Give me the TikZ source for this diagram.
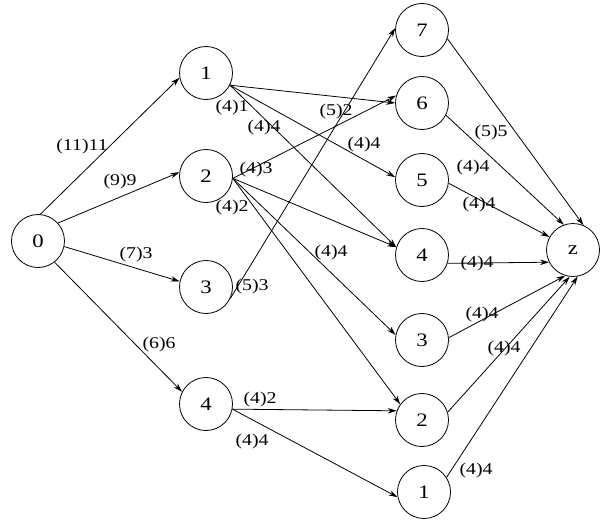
\documentclass[tikz,border=0pt]{standalone}
\usepackage{fontspec}
\setmainfont{Liberation Serif}
\newfontfamily\lblfont{Liberation Serif}[FakeStretch=1.2]
\usetikzlibrary{arrows.meta}
\begin{document}
\begin{tikzpicture}[x=1pt,y=-1pt,
  vtx/.style={draw,circle,minimum size=53pt,inner sep=0pt,line width=0.8pt,font=\lblfont\fontsize{19}{19}\selectfont},
  lbl/.style={inner sep=0pt,font=\lblfont\fontsize{16.5}{17}\selectfont},
  arr/.style={line width=0.8pt,-{Stealth[length=9pt,width=5.5pt]}}]
\useasboundingbox (0,0) rectangle (608,525);
% nodes
\node[vtx] (n0) at (38,241) {0};
\node[vtx] (a1) at (206,73) {1};
\node[vtx] (a2) at (206,176) {2};
\node[vtx] (a3) at (206,287) {3};
\node[vtx] (a4) at (206,404) {4};
\node[vtx] (b7) at (422,30) {7};
\node[vtx] (b6) at (422,103) {6};
\node[vtx] (b5) at (422,180) {5};
\node[vtx] (b4) at (422,255) {4};
\node[vtx] (b3) at (422,340) {3};
\node[vtx] (b2) at (422,420) {2};
\node[vtx] (b1) at (424,492) {1};
\node[vtx] (z) at (573,250) {z};
% edges
\draw[arr] (n0.85) -- (a1.190);
\draw[arr] (n0.42) -- (a2.172);
\draw[arr] (n0.-12) -- (a3.168);
\draw[arr] (n0.-52) -- (a4.153);
\draw[arr] (a1.-27) -- (b6.180);
\draw[arr] (a1.-27) -- (b5.174);
\draw[arr] (a1.-27) -- (b4.163);
\draw[arr] (a2.-5) -- (b6.164);
\draw[arr] (a2.-5) -- (b4.163);
\draw[arr] (a2.-5) -- (b3.169);
\draw[arr] (a2.-5) -- (b2.144);
\draw[arr] (a3.-25) -- (b7.176);
\draw[arr] (a4.-11) -- (b2.160);
\draw[arr] (a4.-11) -- (b1.191);
\draw[arr] (b7.-19) -- (z.67);
\draw[arr] (b6.-27) -- (z.110);
\draw[arr] (b5.-7) -- (z.151);
\draw[arr] (b4.-18) -- (z.-153);
\draw[arr] (b3.5) -- (z.-107);
\draw[arr] (b2.17) -- (z.-97);
\draw[arr] (b1.33) -- (z.-80);
% labels
\node[lbl] (l01) at (82,147) {(11)11};
\node[lbl] (l02) at (120,182) {(9)9};
\node[lbl] (l03) at (136,255) {(7)3};
\node[lbl] (l04) at (159,345) {(6)6};
\node[lbl] (l16) at (232,108) {(4)1};
\node[lbl] (l14) at (264,128) {(4)4};
\node[lbl] (l26) at (256,170) {(4)3};
\node[lbl] (l22) at (232,208) {(4)2};
\node[lbl] (l37a) at (336,112) {(5)2};
\node[lbl] (l15) at (364,145) {(4)4};
\node[lbl] (l23) at (331,253) {(4)4};
\node[lbl] (l37b) at (252,287) {(5)3};
\node[lbl] (l42) at (260,400) {(4)2};
\node[lbl] (l41) at (252,442) {(4)4};
\node[lbl] (l7z) at (491,133) {(5)5};
\node[lbl] (l6z) at (473,168) {(4)4};
\node[lbl] (l5z) at (479,205) {(4)4};
\node[lbl] (l4z) at (477,264) {(4)4};
\node[lbl] (l3z) at (482,315) {(4)4};
\node[lbl] (l2z) at (504,349) {(4)4};
\node[lbl] (l1z) at (476,471) {(4)4};
\end{tikzpicture}
\end{document}
